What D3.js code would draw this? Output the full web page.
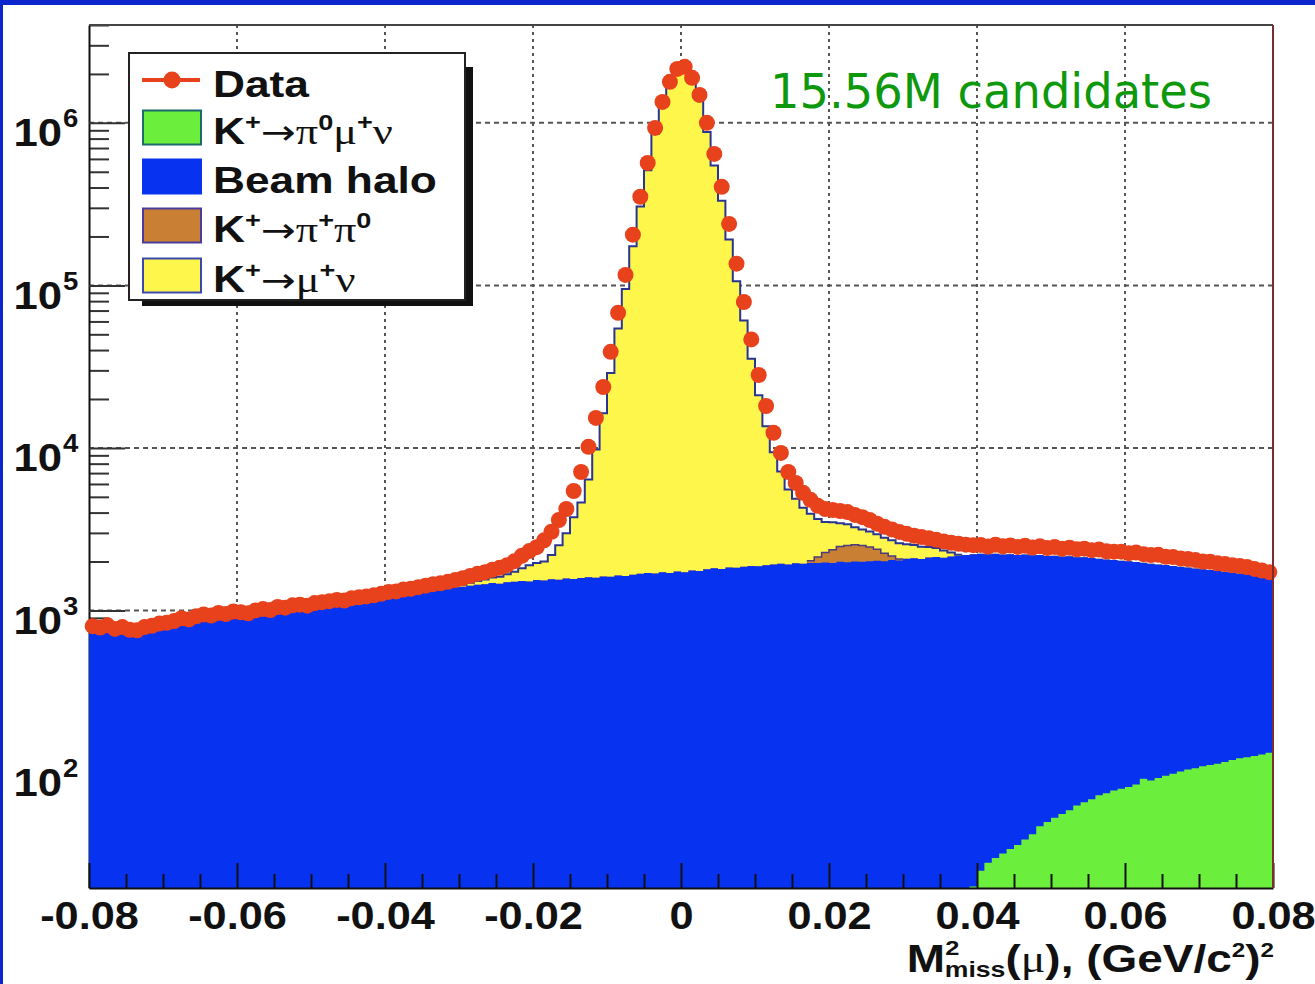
<!DOCTYPE html>
<html>
<head>
<meta charset="utf-8">
<script src="https://cdn.jsdelivr.net/npm/d3@7"></script>
<style>
	body { margin: 0; background: #fff; }
	svg { display: block; }
</style>
</head>
<body>
<svg id="svg" width="1315" height="984"></svg>
<script>
"use strict";

// histogram binning: 160 bins of 0.001 from -0.08 to 0.08
const xMin = -0.08;
const xMax = 0.08;
const binWidth = 0.001;
const nBins = 160;
const yMin = 19.6;
const yMax = 4.0e6;

// data points (entries per bin)
const dataCounts = [
	800, 785, 810, 770, 790, 760, 755, 790, 805, 830,
	840, 860, 895, 880, 920, 945, 930, 965, 950, 985,
	975, 960, 1000, 1020, 1005, 1050, 1040, 1075, 1085, 1070,
	1110, 1125, 1140, 1160, 1150, 1190, 1205, 1220, 1240, 1265,
	1300, 1310, 1345, 1360, 1390, 1420, 1450, 1470, 1500, 1540,
	1580, 1630, 1680, 1720, 1780, 1830, 1900, 2010, 2170, 2320,
	2450, 2700, 3050, 3600, 4210, 5430, 7110, 10150, 15300, 23700,
	39000, 67800, 116000, 205000, 351000, 567000, 931000, 1346000, 1787000, 2148000,
	2211000, 1893000, 1486000, 1000000, 644000, 404000, 239000, 136000, 79000, 46500,
	28100, 18100, 12400, 9310, 7110, 6090, 5290, 4790, 4400, 4210,
	4150, 4090, 4030, 3870, 3750, 3600, 3420, 3270, 3150, 3040,
	2960, 2880, 2830, 2780, 2720, 2660, 2610, 2570, 2540, 2520,
	2530, 2470, 2540, 2480, 2510, 2460, 2500, 2440, 2480, 2420,
	2460, 2400, 2430, 2380, 2400, 2350, 2370, 2310, 2300, 2300,
	2250, 2270, 2220, 2190, 2200, 2140, 2130, 2090, 2070, 2040,
	2000, 1990, 1950, 1930, 1900, 1880, 1850, 1800, 1760, 1720
];

// beam halo background (all bins)
const beamHalo = [
	735, 730, 745, 720, 730, 705, 700, 725, 745, 770,
	780, 800, 825, 820, 850, 875, 865, 895, 880, 915,
	905, 895, 930, 945, 935, 975, 965, 1000, 1005, 995,
	1030, 1045, 1055, 1075, 1070, 1105, 1115, 1130, 1150, 1170,
	1205, 1215, 1245, 1260, 1285, 1310, 1335, 1350, 1370, 1390,
	1400, 1420, 1440, 1450, 1475, 1460, 1490, 1500, 1520, 1505,
	1540, 1530, 1555, 1545, 1570, 1560, 1585, 1600, 1590, 1620,
	1610, 1640, 1630, 1660, 1680, 1700, 1690, 1720, 1700, 1735,
	1720, 1760, 1750, 1790, 1820, 1800, 1840, 1830, 1860, 1880,
	1870, 1900, 1920, 1935, 1920, 1950, 1940, 1960, 1955, 1975,
	1960, 1990, 1980, 2000, 1990, 2010, 2020, 2005, 2040, 2030,
	2080, 2095, 2075, 2115, 2130, 2110, 2150, 2165, 2190, 2200,
	2210, 2185, 2200, 2175, 2185, 2160, 2170, 2140, 2150, 2115,
	2115, 2095, 2095, 2065, 2055, 2030, 2010, 1985, 1965, 1945,
	1925, 1900, 1870, 1850, 1825, 1805, 1780, 1755, 1730, 1705,
	1680, 1660, 1640, 1615, 1590, 1565, 1545, 1525, 1500, 1470
];

// K+ -> pi0 mu+ nu, first non-empty bin 119
const kmu3Start = 119;
const kmu3 = [
	20, 25, 28, 30, 32, 34, 36, 39, 42, 47,
	50, 53, 56, 59, 63, 66, 69, 73, 75, 78,
	80, 82, 85, 92, 90, 93, 96, 99, 102, 105,
	107, 110, 112, 114, 117, 120, 123, 125, 127, 130,
	133
];

// K+ -> pi+ pi0, first non-empty bin 97
const k2piStart = 97;
const k2pi = [60, 180, 300, 400, 480, 530, 540, 520, 450, 360, 240, 120, 40];

// K+ -> mu+ nu, first non-empty bin 50
const kmu2Start = 50;
const kmu2 = [
	40, 60, 80, 100, 120, 150, 180, 230, 300, 395,
	420, 470, 640, 975, 1420, 2190, 3035, 4790, 8200, 14730,
	27250, 52600, 93490, 172590, 303690, 508600, 854830, 1277000, 1731700, 2146000,
	2165000, 1815500, 1380200, 878200, 545600, 329500, 189400, 104250, 58970, 33460,
	19200, 11680, 7500, 5230, 3630, 2920, 2345, 1910, 1517, 1220,
	1126, 966, 875, 711, 640, 600, 560, 560, 540, 520,
	470, 430, 390, 340, 290, 230, 120, 40
];

const xTicks = [-0.08, -0.06, -0.04, -0.02, 0, 0.02, 0.04, 0.06, 0.08];
const xTickLabels = ["-0.08", "-0.06", "-0.04", "-0.02", "0", "0.02", "0.04", "0.06", "0.08"];
const yDecades = [1e2, 1e3, 1e4, 1e5, 1e6];
const yExponents = ["2", "3", "4", "5", "6"];

const colors = {
	data: "#e8421d",
	kmu3: "#6cee3c",
	halo: "#0632f0",
	k2pi: "#c98034",
	kmu2: "#fff64c",
	outline: "#2a3590",
	frame: "#0b26cc"
};

// legend rows: label pieces (sup = superscript, gr = greek/symbol)
const legendRows = [
	{ key: "data", parts: [{ t: "Data" }] },
	{ key: "kmu3", parts: [{ t: "K" }, { t: "+", sup: true }, { t: "→", arrow: true }, { t: "π", gr: true }, { t: "0", sup: true }, { t: "μ", gr: true }, { t: "+", sup: true }, { t: "ν", gr: true }] },
	{ key: "halo", parts: [{ t: "Beam halo" }] },
	{ key: "k2pi", parts: [{ t: "K" }, { t: "+", sup: true }, { t: "→", arrow: true }, { t: "π", gr: true }, { t: "+", sup: true }, { t: "π", gr: true }, { t: "0", sup: true }] },
	{ key: "kmu2", parts: [{ t: "K" }, { t: "+", sup: true }, { t: "→", arrow: true }, { t: "μ", gr: true }, { t: "+", sup: true }, { t: "ν", gr: true }] }
];

const candidatesLabel = "15.56M candidates";

const svg = d3.select("#svg");
const plot = { left: 89, right: 1273, top: 25, bottom: 888 };
const sansBold = "'Liberation Sans', Arial, Helvetica, sans-serif";

const x = d3.scaleLinear().domain([xMin, xMax]).range([plot.left, plot.right]);
const y = d3.scaleLog().domain([yMin, yMax]).range([plot.bottom, plot.top]).clamp(true);

// blue slide frame
svg.append("rect").attr("width", 1315).attr("height", 984).attr("fill", "#fff");
svg.append("rect").attr("width", 1315).attr("height", 5).attr("fill", colors.frame);
svg.append("rect").attr("width", 3).attr("height", 984).attr("fill", colors.frame);

// expand a partial histogram to all bins
function expand(values, start) {
	const out = new Array(nBins).fill(0);
	values.forEach((v, i) => (out[start + i] = v));
	return out;
}

const green = expand(kmu3, kmu3Start);
const brown = expand(k2pi, k2piStart);
const yellow = expand(kmu2, kmu2Start);

// cumulative stack (green at the bottom)
const stack1 = green;
const stack2 = stack1.map((v, i) => v + beamHalo[i]);
const stack3 = stack2.map((v, i) => v + brown[i]);
const stack4 = stack3.map((v, i) => v + yellow[i]);

function stepPoints(vals, from, to) {
	const pts = [];
	for (let i = from; i <= to; i++) pts.push([xMin + i * binWidth, vals[i]]);
	pts.push([xMin + (to + 1) * binWidth, vals[to]]);
	return pts;
}

const yv = (v) => y(Math.max(v, yMin));

const area = d3
	.area()
	.curve(d3.curveStepAfter)
	.x((d) => x(d[0]))
	.y0(plot.bottom)
	.y1((d) => yv(d[1]));

const line = d3
	.line()
	.curve(d3.curveStepAfter)
	.x((d) => x(d[0]))
	.y((d) => yv(d[1]));

// grid
const grid = svg.append("g").attr("id", "grid");
grid.selectAll(".vgrid")
	.data(xTicks.slice(1, -1))
	.enter()
	.append("line")
	.attr("class", "vgrid")
	.attr("x1", (d) => x(d))
	.attr("x2", (d) => x(d))
	.attr("y1", plot.top)
	.attr("y2", plot.bottom)
	.style("stroke", "#555")
	.style("stroke-width", "2px")
	.style("stroke-dasharray", "3,4");
grid.selectAll(".hgrid")
	.data(yDecades)
	.enter()
	.append("line")
	.attr("class", "hgrid")
	.attr("x1", plot.left)
	.attr("x2", plot.right)
	.attr("y1", (d) => y(d))
	.attr("y2", (d) => y(d))
	.style("stroke", "#555")
	.style("stroke-width", "2px")
	.style("stroke-dasharray", "5,4");

// y axis (drawn below the histograms)
const yMinor = y.ticks().filter((d) => !yDecades.includes(d));
svg.append("g")
	.attr("transform", `translate(${plot.left},0)`)
	.call(d3.axisLeft(y).tickValues(yMinor).tickSize(-20).tickSizeOuter(0).tickFormat(""))
	.call((g) => g.select(".domain").remove())
	.call((g) => g.selectAll("line").style("stroke", "#333").style("stroke-width", "2px"));

const yAxis = svg.append("g")
	.attr("transform", `translate(${plot.left},0)`)
	.call(d3.axisLeft(y).tickValues(yDecades).tickSize(-36).tickSizeOuter(0).tickFormat(""));
yAxis.select(".domain").style("stroke", "#111").style("stroke-width", "2px");
yAxis.selectAll("line").style("stroke", "#333").style("stroke-width", "2px");
yAxis.selectAll(".tick").each(function (d, i) {
	const t = d3.select(this);
	t.append("text")
		.text("10")
		.attr("transform", "translate(-27,23) scale(1.12,1)")
		.attr("text-anchor", "end")
		.style("font-family", sansBold)
		.style("font-weight", "bold")
		.style("font-size", "39px")
		.style("fill", "#111");
	t.append("text")
		.text(yExponents[i])
		.attr("transform", "translate(-26,4) scale(1.1,1)")
		.attr("text-anchor", "start")
		.style("font-family", sansBold)
		.style("font-weight", "bold")
		.style("font-size", "25px")
		.style("fill", "#111");
});

// stacked histograms, largest cumulative first
const hists = svg.append("g").attr("id", "stack");
[
	[stack4, colors.kmu2],
	[stack3, colors.k2pi],
	[stack2, colors.halo],
	[stack1, colors.kmu3]
].forEach(([vals, col]) => {
	hists.append("path")
		.attr("d", area(stepPoints(vals, 0, nBins - 1)))
		.style("fill", col)
		.style("stroke", "none");
});

// outlines of the K->mu nu and K->pi pi components
hists.append("path")
	.attr("d", line(stepPoints(stack3, k2piStart, k2piStart + k2pi.length - 1)))
	.style("fill", "none")
	.style("stroke", "#4a3c7c")
	.style("stroke-width", "1.5px");
hists.append("path")
	.attr("d", line(stepPoints(stack4, kmu2Start, kmu2Start + kmu2.length - 1)))
	.style("fill", "none")
	.style("stroke", colors.outline)
	.style("stroke-width", "2px");

// x axis on top of the fills
const xMinor = d3.range(-0.075, 0.08, 0.005).filter((d) => Math.abs(Math.round(d * 1000) % 20) !== 0);
svg.append("g")
	.attr("transform", `translate(0,${plot.bottom})`)
	.call(d3.axisBottom(x).tickValues(xMinor).tickSize(-14).tickSizeOuter(0).tickFormat(""))
	.call((g) => g.select(".domain").remove())
	.call((g) => g.selectAll("line").style("stroke", "#111").style("stroke-width", "2px"));

const xAxis = svg.append("g")
	.attr("transform", `translate(0,${plot.bottom})`)
	.call(
		d3.axisBottom(x)
			.tickValues(xTicks)
			.tickSize(-25)
			.tickSizeOuter(0)
			.tickPadding(13)
			.tickFormat((d, i) => xTickLabels[i])
	);
xAxis.attr("font-size", null).attr("font-family", null);
xAxis.select(".domain").style("stroke", "#111").style("stroke-width", "2px");
xAxis.selectAll("line").style("stroke", "#111").style("stroke-width", "2px");
xAxis.selectAll("text")
	.attr("transform", "scale(1.11,1)")
	.style("font-family", sansBold)
	.style("font-weight", "bold")
	.style("font-size", "39px")
	.style("fill", "#111");

// data markers
svg.append("g")
	.attr("id", "data")
	.selectAll("circle")
	.data(dataCounts)
	.enter()
	.append("circle")
	.attr("cx", (d, i) => x(xMin + (i + 0.5) * binWidth))
	.attr("cy", (d) => yv(d))
	.attr("r", 8)
	.style("fill", colors.data);

// frame top / right
svg.append("line")
	.attr("x1", plot.left).attr("x2", plot.right)
	.attr("y1", plot.top).attr("y2", plot.top)
	.style("stroke", "#444").style("stroke-width", "2px");
svg.append("line")
	.attr("x1", plot.right).attr("x2", plot.right)
	.attr("y1", plot.top).attr("y2", plot.bottom)
	.style("stroke", "#7b2d2d").style("stroke-width", "2px");

// rich label writer (superscripts, greek letters)
function writeParts(text, parts, size) {
	let shift = 0;
	parts.forEach((p) => {
		const want = p.sup ? -Math.round(size * 0.4) : 0;
		const t = text.append("tspan").text(p.t).attr("dy", want - shift);
		shift = want;
		if (p.sup) t.style("font-size", Math.round(size * 0.62) + "px");
		if (p.gr) t.style("font-family", "'Liberation Serif', 'DejaVu Serif', serif").style("font-weight", "normal");
		if (p.arrow)
			t.style("font-family", "'DejaVu Sans', sans-serif")
				.style("font-weight", "normal")
				.style("font-size", Math.round(size * 0.95) + "px");
	});
}

// legend
const legend = svg.append("g").attr("id", "legend");
legend.append("rect")
	.attr("x", 142).attr("y", 67).attr("width", 331).attr("height", 239)
	.style("fill", "#111");
legend.append("rect")
	.attr("x", 129).attr("y", 53).attr("width", 336).attr("height", 247)
	.style("fill", "#fff").style("stroke", "#222").style("stroke-width", "2px");

const rowY = [80, 127.5, 176.5, 225.5, 275.5];
const boxStroke = { kmu3: "#1d6a6a", halo: colors.halo, k2pi: "#4a3c9c", kmu2: "#3a48b0" };

legendRows.forEach((row, i) => {
	const cy = rowY[i];
	if (row.key === "data") {
		legend.append("line")
			.attr("x1", 142).attr("x2", 200).attr("y1", cy).attr("y2", cy)
			.style("stroke", colors.data).style("stroke-width", "4px");
		legend.append("circle")
			.attr("cx", 172).attr("cy", cy).attr("r", 8.5)
			.style("fill", colors.data);
	} else {
		legend.append("rect")
			.attr("x", 143).attr("y", cy - 17).attr("width", 58).attr("height", 34)
			.style("fill", colors[row.key])
			.style("stroke", boxStroke[row.key])
			.style("stroke-width", "2px");
	}
	const text = legend.append("text")
		.attr("transform", `translate(213,${cy + 16.5}) scale(1.23,1)`)
		.style("font-family", sansBold)
		.style("font-weight", "bold")
		.style("font-size", "36px")
		.style("fill", "#111");
	writeParts(text, row.parts, 36);
});

// axis title: M^2_miss(mu), (GeV/c^2)^2
const title = svg.append("text")
	.attr("transform", `translate(${plot.right + 1},972) scale(1.21,1)`)
	.attr("text-anchor", "end")
	.style("font-family", sansBold)
	.style("font-weight", "bold")
	.style("font-size", "38px")
	.style("fill", "#111");
title.append("tspan").text("M");
title.append("tspan").text("2").attr("dy", -17).style("font-size", "21px");
title.append("tspan").text("miss").attr("dx", -12).attr("dy", 22).style("font-size", "22px");
title.append("tspan").text("(").attr("dy", -5);
title.append("tspan").text("μ").style("font-family", "'Liberation Serif', serif").style("font-weight", "normal");
title.append("tspan").text("), (GeV/c");
title.append("tspan").text("2").attr("dy", -15).style("font-size", "20px");
title.append("tspan").text(")").attr("dy", 15);
title.append("tspan").text("2").attr("dy", -15).style("font-size", "20px");

// candidates annotation
svg.append("text")
	.text(candidatesLabel)
	.attr("x", 770)
	.attr("y", 108)
	.attr("textLength", 442)
	.attr("lengthAdjust", "spacingAndGlyphs")
	.style("font-family", "'Comic Sans MS', 'DejaVu Sans', sans-serif")
	.style("font-size", "48px")
	.style("fill", "#0d980d");
</script>
</body>
</html>
